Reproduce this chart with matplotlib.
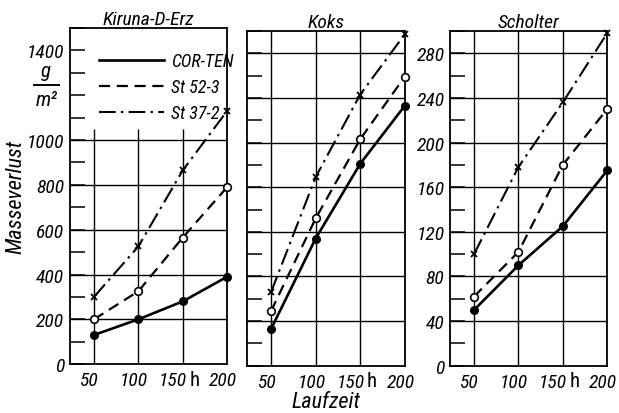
import numpy as np
import matplotlib
matplotlib.use("Agg")
import matplotlib.pyplot as plt
from matplotlib import font_manager
from matplotlib.ticker import MultipleLocator, FixedLocator
from matplotlib.transforms import ScaledTranslation, blended_transform_factory

# pick a narrow font if there is one
names = {f.name for f in font_manager.fontManager.ttflist}
narrow = [n for n in ['Liberation Sans Narrow', 'DejaVu Sans Condensed',
                      'Roboto Condensed', 'Noto Sans Condensed'] if n in names]
plt.rcParams['font.family'] = narrow + ['DejaVu Sans']
plt.rcParams['font.style'] = 'italic'

# Laufzeit in h
hours = [50, 100, 150, 200]
hour_labels = ['50', '100', '150', '200']

# Masseverlust in g/m2
kiruna_corten = [130, 200, 280, 390]
kiruna_st52 = [200, 325, 565, 790]
kiruna_st37 = [300, 525, 865, 1130]

koks_corten = [33, 114, 181, 233]
koks_st52 = [49, 132, 203, 259]
koks_st37 = [66, 169, 243, 297]

scholter_corten = [50, 90, 125, 175]
scholter_st52 = [62, 102, 180, 230]
scholter_st37 = [100, 178, 236, 298]

series_names = ['COR-TEN', 'St 52-3', 'St 37-2']
panel_titles = ['Kiruna-D-Erz', 'Koks', 'Scholter']

fig = plt.figure(figsize=(6.19, 4.14), dpi=100)
ax1 = fig.add_axes([0.113, 0.118, 0.254, 0.812])
ax2 = fig.add_axes([0.399, 0.114, 0.255, 0.809])
ax3 = fig.add_axes([0.727, 0.114, 0.254, 0.809])

panels = [
    (ax1, kiruna_corten, kiruna_st52, kiruna_st37),
    (ax2, koks_corten, koks_st52, koks_st37),
    (ax3, scholter_corten, scholter_st52, scholter_st37),
]

for ax, corten, st52, st37 in panels:
    ax.set_xlim(23, 200)
    ax.plot(hours, corten, color='black', lw=1.9, ls='-', marker='o',
            ms=5.5, mfc='black', mec='black', clip_on=False, zorder=5)
    ax.plot(hours, st52, color='black', lw=1.6, ls=(0, (5, 3)), marker='o',
            ms=5.5, mfc='white', mec='black', mew=1.2, clip_on=False, zorder=5)
    ax.plot(hours, st37, color='black', lw=1.5, ls=(0, (8, 2.5, 1.2, 2.5)),
            marker='x', ms=4, mew=1.3, mec='black', clip_on=False, zorder=5)
    for s in ax.spines.values():
        s.set_linewidth(1.3)
    ax.tick_params(axis='both', which='both', direction='in', color='black')
    ax.tick_params(axis='y', which='both', length=11, width=1.1, labelsize=14,
                   pad=4)
    ax.tick_params(axis='x', length=0, labelsize=14, pad=5)
    ax.set_xticks(hours)
    ax.set_xticklabels(hour_labels)
    # labels sit a bit left of their grid lines, "150" more so to make room for "h"
    for i, lab in enumerate(ax.get_xticklabels()):
        dx = -7 if i == 2 else -3
        lab.set_transform(lab.get_transform() +
                          ScaledTranslation(dx / 72, 0, fig.dpi_scale_trans))
    ax.text(163, 0, 'h', transform=ax.get_xaxis_transform() +
            ScaledTranslation(0, -4 / 72, fig.dpi_scale_trans),
            ha='center', va='top', fontsize=15, style='normal')

# Kiruna
ax1.set_ylim(0, 1500)
ax1.yaxis.set_major_locator(FixedLocator([0, 200, 400, 600, 800, 1000, 1400]))
ax1.yaxis.set_minor_locator(MultipleLocator(100))
ax1.hlines([200, 400, 600, 800, 1000], 23, 200, color='black', lw=1.0, zorder=1)
ax1.vlines([50, 100, 150], 0, 1050, color='black', lw=1.0, zorder=1)
# unit g/m2 as a fraction beside the axis
tr = blended_transform_factory(ax1.transAxes, ax1.transData)
ax1.text(-0.15, 1268, 'g', transform=tr, ha='center', va='bottom', fontsize=15)
ax1.text(-0.15, 1222, 'm²', transform=tr, ha='center', va='top', fontsize=15)
ax1.plot([-0.23, -0.07], [1245, 1245], transform=tr, color='black', lw=1.4,
         clip_on=False)
leg = ax1.legend(ax1.get_lines()[:3], series_names, loc='upper left',
                 bbox_to_anchor=(0.14, 0.95), frameon=False, handlelength=3.6,
                 fontsize=13, labelspacing=0.45, handletextpad=0.4,
                 borderaxespad=0)
for h in leg.legend_handles:
    h.set_marker('')
ax1.set_title(panel_titles[0], fontsize=14, pad=2)
ax1.set_ylabel('Masseverlust', fontsize=16, labelpad=0)

# Koks
ax2.set_ylim(0, 300)
ax2.yaxis.set_major_locator(MultipleLocator(40))
ax2.yaxis.set_minor_locator(MultipleLocator(20))
ax2.set_yticklabels([])
ax2.hlines(np.arange(40, 300, 40), 23, 200, color='black', lw=1.0, zorder=1)
ax2.vlines([50, 100, 150], 0, 300, color='black', lw=1.0, zorder=1)
ax2.set_title(panel_titles[1], fontsize=14, pad=2)
ax2.set_xlabel('Laufzeit', fontsize=16, labelpad=0)

# Scholter
ax3.set_ylim(0, 300)
ax3.yaxis.set_major_locator(MultipleLocator(40))
ax3.yaxis.set_minor_locator(MultipleLocator(20))
ax3.hlines(np.arange(40, 300, 40), 23, 200, color='black', lw=1.0, zorder=1)
ax3.vlines([50, 100, 150], 0, 300, color='black', lw=1.0, zorder=1)
ax3.set_title(panel_titles[2], fontsize=14, pad=2)

fig.savefig('out.png', dpi=100)
